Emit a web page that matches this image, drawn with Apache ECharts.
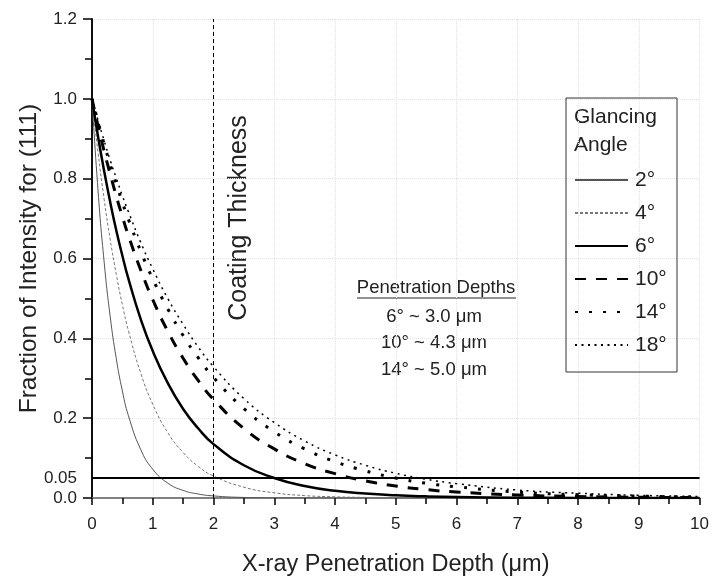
<!DOCTYPE html>
<html>
<head>
<meta charset="utf-8">
<script src="https://cdn.jsdelivr.net/npm/echarts@6/dist/echarts.min.js"></script>
<style>html,body{margin:0;padding:0;background:#fff;}#c{width:712px;height:582px;}</style>
</head>
<body>
<div id="c"></div>
<script>
const depth = [0,0.1,0.2,0.3,0.4,0.5,0.6,0.8,1,1.25,1.5,1.75,2,2.5,3,3.5,4,4.5,5,5.5,6,7,8,9,10];
const angle2 = [1,0.769,0.591,0.454,0.349,0.268,0.206,0.122,0.072,0.037,0.019,0.010,0.0052,0.0014,0.0004,0,0,0,0,0,0,0,0,0,0];
const angle4 = [1,0.865,0.748,0.647,0.560,0.484,0.419,0.314,0.235,0.163,0.114,0.079,0.055,0.027,0.013,0.006,0.003,0.0015,0.0007,0.0003,0,0,0,0,0];
const angle6 = [1,0.905,0.819,0.741,0.670,0.607,0.549,0.449,0.368,0.287,0.223,0.174,0.135,0.082,0.050,0.030,0.018,0.011,0.0067,0.0041,0.0025,0.0009,0.0003,0.0001,0];
const angle10 = [1,0.932,0.869,0.811,0.756,0.705,0.657,0.572,0.497,0.417,0.350,0.294,0.247,0.174,0.123,0.086,0.061,0.043,0.030,0.021,0.015,0.0075,0.0037,0.0018,0.0009];
const angle14 = [1,0.942,0.887,0.835,0.787,0.741,0.698,0.619,0.549,0.473,0.407,0.351,0.302,0.224,0.166,0.123,0.091,0.068,0.050,0.037,0.028,0.015,0.0083,0.0046,0.0025];
const angle18 = [1,0.946,0.895,0.846,0.801,0.757,0.717,0.641,0.574,0.499,0.435,0.378,0.329,0.249,0.189,0.143,0.108,0.082,0.062,0.047,0.036,0.020,0.012,0.0067,0.0039];
const seriesNames = ['2°','4°','6°','10°','14°','18°'];
const thresholdValue = 0.05;
const coatingThickness = 2;
const yTickLabels = ['0.0','0.2','0.4','0.6','0.8','1.0','1.2'];
const depthNotes = ['6° ~ 3.0 μm','10° ~ 4.3 μm','14° ~ 5.0 μm'];

const FONT = '"Liberation Sans", Arial, sans-serif';
const TXT = '#222';
const pair = arr => depth.map((x, i) => [x, arr[i]]);

const styles = [
  {color:'#555', width:1, type:'solid'},
  {color:'#777', width:1, type:[3,2]},
  {color:'#000', width:2.5, type:'solid'},
  {color:'#000', width:3, type:[11,10]},
  {color:'#000', width:3, type:[3,11]},
  {color:'#000', width:1.5, type:[2,4.5]}
];
const dataSets = [angle2, angle4, angle6, angle10, angle14, angle18];

const series = dataSets.map((d, i) => ({
  name: seriesNames[i],
  type: 'line',
  data: pair(d),
  smooth: 0.5,
  showSymbol: false,
  symbol: 'none',
  lineStyle: styles[i],
  itemStyle: {color: styles[i].color},
  z: 3
}));

series.push({
  name: 'refs',
  type: 'line',
  data: [],
  markLine: {
    silent: true,
    symbol: 'none',
    animation: false,
    data: [
      {yAxis: thresholdValue, lineStyle: {color:'#000', width:2, type:'solid'},
       label: {show:true, position:'start', formatter: '0.05', fontSize:17, color:TXT, fontFamily:FONT, distance:15}},
      {xAxis: coatingThickness, lineStyle: {color:'#000', width:1, type:[4,3]}, label:{show:false}}
    ]
  }
});

const chart = echarts.init(document.getElementById('c'));
chart.setOption({
  animation: false,
  backgroundColor: '#fff',
  grid: {left: 92, right: 9, top: 19, bottom: 83},
  xAxis: [{
    type: 'value', min: 0, max: 10, interval: 1,
    name: 'X-ray Penetration Depth (μm)', nameLocation: 'middle', nameGap: 55,
    nameTextStyle: {fontSize: 23.5, color: TXT, fontFamily: FONT},
    axisLine: {show: true, lineStyle: {color: '#000', width: 1.5}},
    axisTick: {show: true, inside: false, length: 7, lineStyle: {color: '#000', width: 1.5}},
    minorTick: {show: true, splitNumber: 2, length: 6, lineStyle: {color: '#000', width: 1.5}},
    axisLabel: {fontSize: 17, color: TXT, fontFamily: FONT, margin: 18},
    splitLine: {show: true, lineStyle: {color: '#e2e2e2', type: 'dotted', width: 1}}
  }, {
    type: 'value', min: 0, max: 10, position: 'top',
    axisLine: {show: true, lineStyle: {color: '#999', width: 1.5}},
    axisTick: {show: false}, axisLabel: {show: false}, splitLine: {show: false}
  }],
  yAxis: [{
    type: 'value', min: 0, max: 1.2, interval: 0.2,
    name: 'Fraction of Intensity for (111)', nameLocation: 'middle', nameGap: 50,
    nameTextStyle: {fontSize: 24.5, color: TXT, fontFamily: FONT},
    axisLine: {show: true, lineStyle: {color: '#000', width: 1.5}},
    axisTick: {show: true, inside: false, length: 9, lineStyle: {color: '#000', width: 1.5}},
    minorTick: {show: true, splitNumber: 2, length: 5, lineStyle: {color: '#000', width: 1.5}},
    axisLabel: {fontSize: 17, color: TXT, fontFamily: FONT, margin: 15,
      formatter: v => yTickLabels[Math.round(v / 0.2)]},
    splitLine: {show: true, lineStyle: {color: '#e2e2e2', type: 'dotted', width: 1}}
  }, {
    type: 'value', min: 0, max: 1.2, interval: 0.1, position: 'right',
    axisLine: {show: true, lineStyle: {color: '#000', width: 1.5}},
    axisTick: {show: true, inside: true, length: 7, lineStyle: {color: '#000', width: 1.5}},
    axisLabel: {show: false}, splitLine: {show: false}
  }],
  legend: {
    orient: 'vertical', left: 574, top: 169, padding: 0,
    itemWidth: 53, itemHeight: 14, itemGap: 11,
    data: seriesNames,
    itemStyle: {opacity: 0},
    textStyle: {fontSize: 21, color: TXT, fontFamily: FONT, lineHeight: 22, padding: [0,0,0,2]}
  },
  graphic: [
    {type:'rect', shape:{x:566, y:98, width:111, height:274}, style:{fill:'none', stroke:'#333', lineWidth:1}, z:1},
    {type:'text', x:574, y:117, style:{text:'Glancing', font:'21px ' + FONT, fill:TXT, textVerticalAlign:'middle'}},
    {type:'text', x:574, y:145, style:{text:'Angle', font:'21px ' + FONT, fill:TXT, textVerticalAlign:'middle'}},
    {type:'text', x:239, y:218, rotation: Math.PI/2, style:{text:'Coating Thickness', font:'25px ' + FONT, fill:TXT, textAlign:'center', textVerticalAlign:'middle'}},
    {type:'text', x:436, y:288, style:{text:'Penetration Depths', font:'18.5px ' + FONT, fill:TXT, textAlign:'center', textVerticalAlign:'middle'}},
    {type:'line', shape:{x1:357, y1:298, x2:516, y2:298}, style:{stroke:TXT, lineWidth:1}},
    {type:'text', x:434, y:317, style:{text:depthNotes[0], font:'18.5px ' + FONT, fill:TXT, textAlign:'center', textVerticalAlign:'middle'}},
    {type:'text', x:434, y:343, style:{text:depthNotes[1], font:'18.5px ' + FONT, fill:TXT, textAlign:'center', textVerticalAlign:'middle'}},
    {type:'text', x:434, y:370, style:{text:depthNotes[2], font:'18.5px ' + FONT, fill:TXT, textAlign:'center', textVerticalAlign:'middle'}}
  ],
  series: series
});
</script>
</body>
</html>
